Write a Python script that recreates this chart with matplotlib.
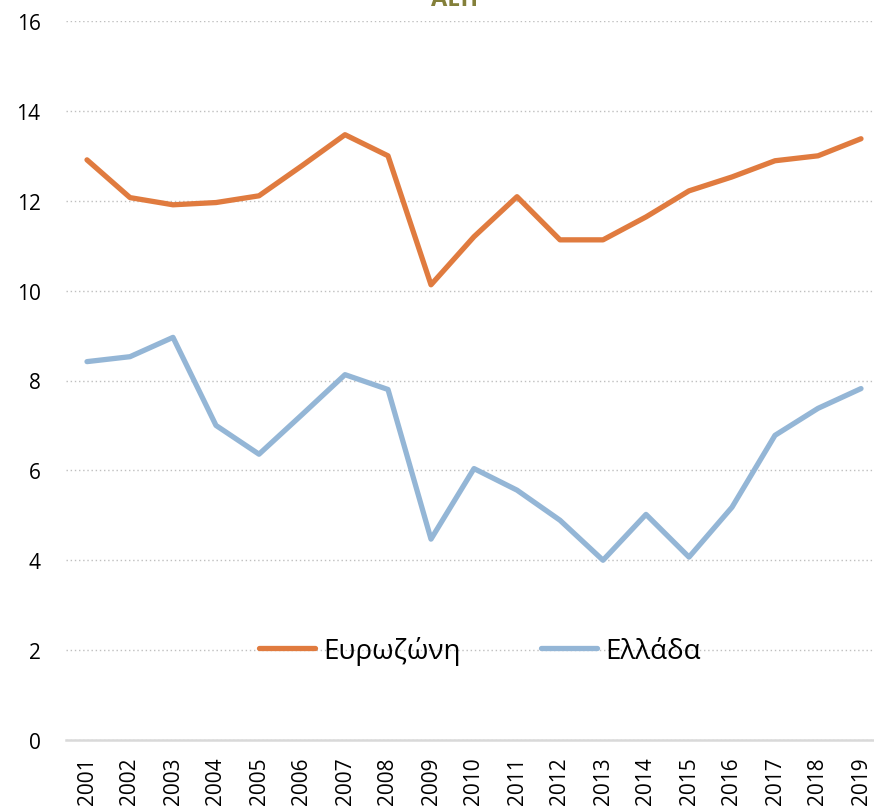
import matplotlib.pyplot as plt

years = ['2001', '2002', '2003', '2004', '2005', '2006', '2007', '2008', '2009', '2010',
         '2011', '2012', '2013', '2014', '2015', '2016', '2017', '2018', '2019']
eurozone = [12.91, 12.07, 11.91, 11.96, 12.11, 12.78, 13.47, 13.0, 10.13, 11.2,
            12.09, 11.13, 11.13, 11.64, 12.22, 12.53, 12.89, 13.0, 13.38]
greece = [8.42, 8.53, 8.96, 7.0, 6.36, 7.24, 8.13, 7.8, 4.47, 6.04,
          5.56, 4.89, 4.0, 5.02, 4.07, 5.18, 6.78, 7.38, 7.82]
yticks = [0, 2, 4, 6, 8, 10, 12, 14, 16]

plt.rcParams['font.family'] = ['Open Sans', 'DejaVu Sans']

fig = plt.figure(figsize=(8.74, 8.12), dpi=100)
# axes runs a little past the right edge, like the cropped original
ax = fig.add_axes([65.5 / 874, (812 - 741) / 812, 817 / 874, 719 / 812])

x = list(range(len(years)))
ax.plot(x, eurozone, color='#E07B3F', lw=3.8, solid_capstyle='round', label='Ευρωζώνη')
ax.plot(x, greece, color='#94B6D6', lw=3.8, solid_capstyle='round', label='Ελλάδα')

ax.set_xlim(-0.5, len(years) - 0.5)
ax.set_ylim(0, 16)
ax.set_yticks(yticks)
ax.set_yticklabels([str(v) for v in yticks])
ax.set_xticks(x)
ax.set_xticklabels(years, rotation=90)

ax.grid(axis='y', color='#BFBFBF', ls=(0, (1, 2)), lw=1)
ax.set_axisbelow(True)
for s in ['left', 'right', 'top']:
    ax.spines[s].set_visible(False)
ax.spines['bottom'].set_color('#D9D9D9')
ax.spines['bottom'].set_linewidth(1.8)
ax.tick_params(length=0, labelsize=15)
ax.tick_params(axis='y', pad=18)
ax.tick_params(axis='x', pad=12)

ax.legend(loc='center', bbox_to_anchor=((480 - 65.5) / 817, 2 / 16),
          ncol=2, frameon=False, fontsize=20, handlelength=2.0, handletextpad=0.3,
          columnspacing=2.9)

fig.text(455 / 874, 1.0, 'ΑΕΠ', ha='center', va='center', fontsize=17,
         fontweight='bold', color='#84803A')

fig.savefig('out.png', dpi=100)
